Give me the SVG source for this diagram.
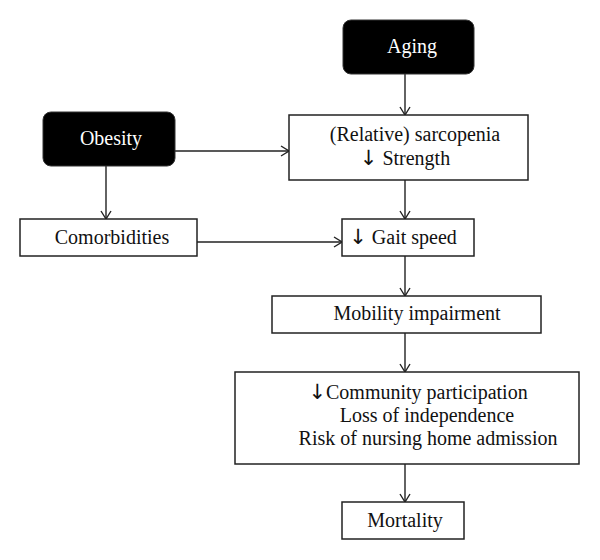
<svg xmlns="http://www.w3.org/2000/svg" width="600" height="560" viewBox="0 0 600 560">
<defs>
<style>
.box{fill:#fff;stroke:#222;stroke-width:1.5}
.dark{fill:#000;stroke:#333;stroke-width:1}
.t{font-family:"Liberation Serif","Times New Roman",serif;font-size:20px;fill:#111;text-anchor:middle}
.w{fill:#fff}
.ar{font-family:"DejaVu Sans",sans-serif;font-size:21px;font-weight:normal}
.c{fill:none;stroke:#222;stroke-width:1.4}
</style>
<marker id="ah" viewBox="0 0 10 12" refX="9" refY="6" markerWidth="10" markerHeight="12" markerUnits="userSpaceOnUse" orient="auto">
<path d="M1,1 L9,6 L1,11" fill="none" stroke="#222" stroke-width="1.4"/>
</marker>
</defs>
<rect width="600" height="560" fill="#fff"/>
<g id="connectors">
<line class="c" x1="405" y1="74" x2="405" y2="115" marker-end="url(#ah)"/>
<line class="c" x1="175" y1="151" x2="289" y2="151" marker-end="url(#ah)"/>
<line class="c" x1="106" y1="166" x2="106" y2="219" marker-end="url(#ah)"/>
<line class="c" x1="405" y1="180" x2="405" y2="219" marker-end="url(#ah)"/>
<line class="c" x1="197" y1="242" x2="342" y2="242" marker-end="url(#ah)"/>
<line class="c" x1="405" y1="256" x2="405" y2="296" marker-end="url(#ah)"/>
<line class="c" x1="405" y1="333" x2="405" y2="372" marker-end="url(#ah)"/>
<line class="c" x1="405" y1="464" x2="405" y2="502" marker-end="url(#ah)"/>
</g>
<g id="aging">
<rect class="dark" x="343" y="20" width="131" height="54" rx="8"/>
<text class="t w" x="412" y="53">Aging</text>
</g>
<g id="obesity">
<rect class="dark" x="43" y="112" width="132" height="54" rx="8"/>
<text class="t w" x="111" y="145">Obesity</text>
</g>
<g id="sarcopenia">
<rect class="box" x="289" y="115" width="239" height="65"/>
<text class="t" x="415" y="141">(Relative) sarcopenia</text>
<text class="t" x="405" y="165"><tspan class="ar">↓</tspan> Strength</text>
</g>
<g id="comorbidities">
<rect class="box" x="20" y="219" width="177" height="37"/>
<text class="t" x="112" y="244">Comorbidities</text>
</g>
<g id="gait">
<rect class="box" x="342" y="219" width="132" height="37"/>
<text class="t" x="403" y="244"><tspan class="ar">↓</tspan> Gait speed</text>
</g>
<g id="mobility">
<rect class="box" x="272" y="296" width="269" height="37"/>
<text class="t" x="417" y="320">Mobility impairment</text>
</g>
<g id="community">
<rect class="box" x="235" y="372" width="344" height="92"/>
<text class="t" x="418" y="399"><tspan class="ar">↓</tspan>Community participation</text>
<text class="t" x="427" y="422">Loss of independence</text>
<text class="t" x="428" y="445">Risk of nursing home admission</text>
</g>
<g id="mortality">
<rect class="box" x="342" y="502" width="122" height="37"/>
<text class="t" x="405" y="527">Mortality</text>
</g>
</svg>
